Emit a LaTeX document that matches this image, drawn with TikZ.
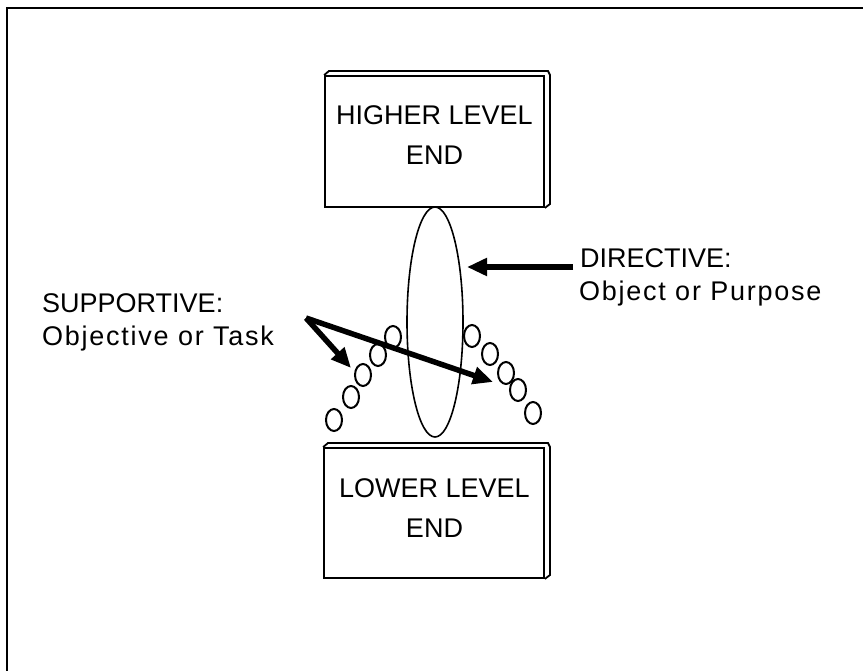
\documentclass[tikz,border=0pt]{standalone}
\usepackage{fontspec}
\setmainfont{Liberation Sans}
\newfontfamily\spacedfont[LetterSpace=6.5]{Liberation Sans}
\usetikzlibrary{arrows.meta,shapes.geometric}
\tikzset{
  slab/.style={draw, line width=1.8pt, rectangle, inner sep=0pt},
  lbl/.style={anchor=base west, inner sep=0pt, font=\fontsize{27}{32}\selectfont},
  lbllow/.style={anchor=base west, inner sep=0pt, font=\spacedfont\fontsize{27}{32}\selectfont},
  boxtxt/.style={anchor=base, inner sep=0pt, font=\fontsize{27}{32}\selectfont},
  bigarrow/.style={line width=5.5pt, -{Triangle[length=20pt,width=17pt]}},
  bead/.style={draw, ellipse, line width=2pt, minimum width=16pt, minimum height=22pt, inner sep=0pt},
  frame/.style={line width=2pt}
}
\begin{document}
\begin{tikzpicture}[x=1pt,y=-1pt]
\useasboundingbox (0,0) rectangle (863,671);
% frame
\coordinate (fbl) at (7,672);
\coordinate (ftl) at (7,8);
\coordinate (ftr) at (864,8);
\draw[frame] (fbl) -- (ftl) -- (ftr);
% higher box
\node[slab, minimum width=219pt, minimum height=131pt] (hi) at (434.5,141.5) {};
\draw[line width=1.8pt] (hi.north west) -- (329,71) -- (548,71) -- (550,75) -- (550,204) -- (hi.south east);
\node[boxtxt] (hi1) at (434.5,125) {HIGHER LEVEL};
\node[boxtxt] (hi2) at (434.5,165) {END};
% lower box
\node[slab, minimum width=220pt, minimum height=130pt] (lo) at (434,513) {};
\draw[line width=1.8pt] (lo.north west) -- (328,443) -- (548,443) -- (550,447) -- (550,575) -- (lo.south east);
\node[boxtxt] (lo1) at (434.5,497) {LOWER LEVEL};
\node[boxtxt] (lo2) at (434.5,537) {END};
% central ellipse
\node[draw, ellipse, line width=1.6pt, minimum width=56pt, minimum height=230pt, inner sep=0pt] (dir) at (435,322) {};
% beads left
\node[bead] (l1) at (393,337) {};
\node[bead] (l2) at (378,355) {};
\node[bead] (l3) at (363,375) {};
\node[bead] (l4) at (351,397) {};
\node[bead] (l5) at (334,420) {};
% beads right
\node[bead] (r1) at (472,336) {};
\node[bead] (r2) at (490,354) {};
\node[bead] (r3) at (506,373) {};
\node[bead] (r4) at (518,390) {};
\node[bead] (r5) at (533,413) {};
% labels
\node[lbl] (d1) at (580,268) {DIRECTIVE:};
\node[lbllow] (d2) at (579,301) {Object or Purpose};
\node[lbl] (s1) at (42,313) {SUPPORTIVE:};
\node[lbllow] (s2) at (42,346) {Objective or Task};
% arrows
\coordinate (dtail) at (573,267);
\coordinate (dtip) at (467,267);
\draw[bigarrow] (dtail) -- (dtip);
\coordinate (sstart) at (306,318);
\coordinate (stip1) at (351,368);
\coordinate (stip2) at (493,382);
\draw[bigarrow] (sstart) -- (stip1);
\draw[bigarrow] (sstart) -- (stip2);
\end{tikzpicture}
\end{document}
